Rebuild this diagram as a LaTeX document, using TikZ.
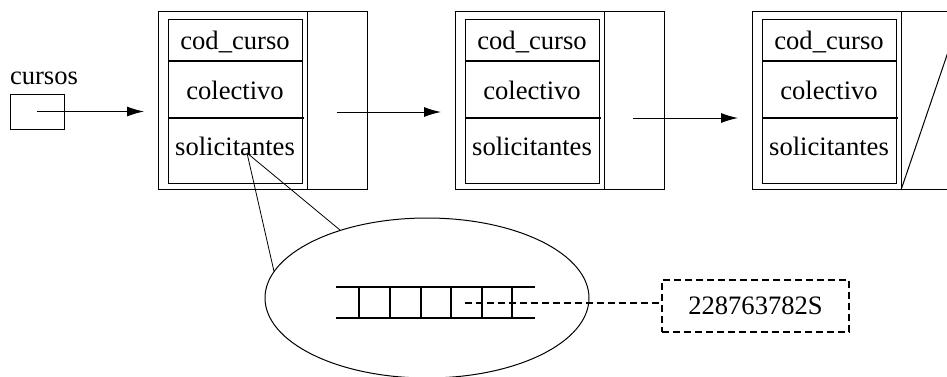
\documentclass[tikz,border=0pt]{standalone}
\usepackage{fontspec}
\setmainfont{Liberation Serif}
\usetikzlibrary{arrows.meta,shapes.geometric}

\begin{document}
\begin{tikzpicture}[x=0.5pt, y=-0.5pt,
    font=\fontsize{13.3}{16}\selectfont,
    box/.style={draw, line width=0.5pt},
    sep/.style={line width=0.8pt},
    ptr/.style={-{Latex[length=8.5pt, width=5pt]}, line width=0.5pt, shorten >=7pt},
    field/.style={anchor=base, inner sep=0pt},
    link/.style={dash pattern=on 3.5pt off 2pt, line width=0.8pt},
]

\newcommand{\curso}[2]{%
  \node[box, minimum width=104.5pt, minimum height=89pt, inner sep=0pt,
        anchor=north west] (#2) at (#1,11) {};
  \draw[box] (#1+149,11) -- (#1+149,189);
  \draw[box] (#1+10,19) rectangle (#1+144,183);
  \draw[sep] (#1+10,61) -- (#1+144,61);
  \draw[sep] (#1+10,118) -- (#1+146,118);
  \node[field] (#2-cod) at (#1+77,49)  {cod\_curso};
  \node[field] (#2-col) at (#1+77,99)  {colectivo};
  \node[field] (#2-sol) at (#1+77,155) {solicitantes};
}

\useasboundingbox (0,0) rectangle (947,376);
\clip (0,0) rectangle (947,376);

% === Head pointer ===
\node[box, minimum width=27pt, minimum height=17.5pt, inner sep=0pt] (cursos) at (37,111.5) {};
\node[field] (cursos-lbl) at (44,84) {cursos};

% === Course records ===
\curso{158}{c1}
\curso{455}{c2}
\curso{752}{c3}

\coordinate (c1-nxt) at (337,112);
\coordinate (c2-nxt) at (633,118);
\draw[ptr] (cursos.center) -- (cursos.center -| c1.west);
\draw[ptr] (c1-nxt) -- (c1-nxt -| c2.west);
\draw[ptr] (c2-nxt) -- (c2-nxt -| c3.west);

% null pointer
\draw[box] ([xshift=74.5pt]c3.south west) -- (c3.north east);

% === Zoom on solicitantes ===
\node[draw, ellipse, line width=0.5pt, minimum width=162pt, minimum height=80pt,
      inner sep=0pt] (zoom) at (427,298) {};
\coordinate (c1-sol-p) at (247,153);
\draw (c1-sol-p) -- (zoom.170);
\draw (c1-sol-p) -- (zoom.142);

\draw[sep] (336,287) -- (535,287) (336,318) -- (535,318);
\foreach \x in {359,390,421,451,482,512}
  \draw[sep] (\x,287) -- (\x,318);

\coordinate (elem) at (465,303);
\node[draw, link, minimum width=93.5pt, minimum height=26pt] (dni) at (755.5,306) {228763782S};
\draw[link] (elem) -- (elem -| dni.west);
\end{tikzpicture}
\end{document}
